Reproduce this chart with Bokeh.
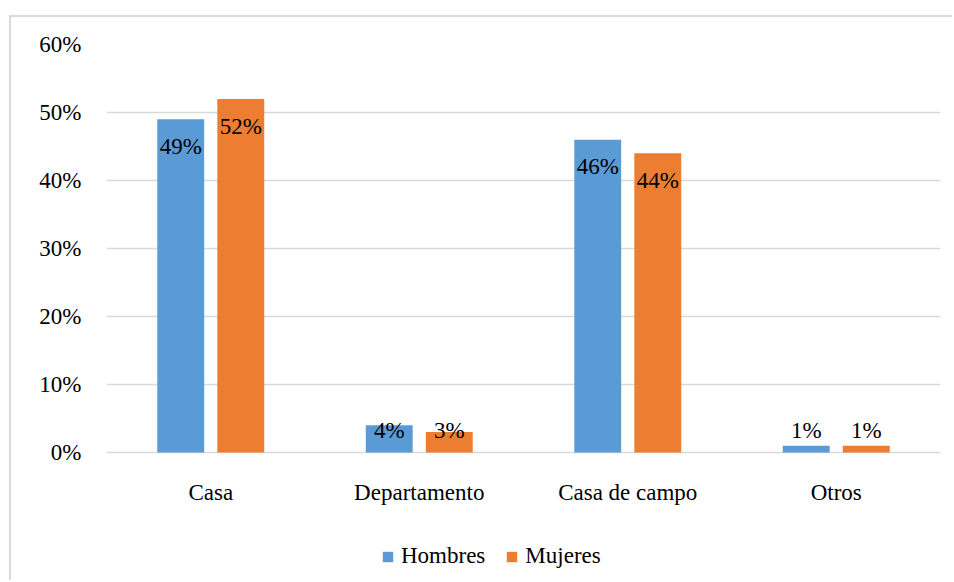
from bokeh.plotting import figure
from bokeh.models import ColumnDataSource, FactorRange, NumeralTickFormatter, Legend, LegendItem
from bokeh.transform import dodge
from bokeh.core.properties import value
from bokeh.embed import file_html
from bokeh.resources import INLINE
import numpy as np

categories = ["Casa", "Departamento", "Casa de campo", "Otros"]
hombres = [0.49, 0.04, 0.46, 0.01]
mujeres = [0.52, 0.03, 0.44, 0.01]
series_names = ["Hombres", "Mujeres"]
y_ticks = [0, 0.1, 0.2, 0.3, 0.4, 0.5, 0.6]

BLUE = "#5B9BD5"
ORANGE = "#ED7D31"
GRID = "#D9D9D9"
FONT = "Liberation Serif"

def label_y(vals):
    v = np.array(vals)
    return np.maximum(v - 0.04, 0.032)

src = ColumnDataSource(dict(
    cat=categories,
    h=hombres,
    m=mujeres,
    h_lab=[f"{round(v*100)}%" for v in hombres],
    m_lab=[f"{round(v*100)}%" for v in mujeres],
    h_y=label_y(hombres),
    m_y=label_y(mujeres),
))

# frame extends below zero so the category labels and legend sit inside it
p = figure(
    x_range=FactorRange(*categories, range_padding=0),
    y_range=(-0.1853, 0.6),
    width=943, height=565,
    output_backend="svg", toolbar_location=None,
    min_border_left=95, min_border_right=14,
    min_border_top=27, min_border_bottom=4,
    styles={"margin-left": "9px", "margin-top": "15px",
            "border-left": "2px solid #D9D9D9", "border-top": "2px solid #D9D9D9"},
)
p.outline_line_color = None
p.background_fill_color = "white"
p.border_fill_color = "white"

off = 0.144
bw = 0.225
r1 = p.vbar(x=dodge("cat", -off, range=p.x_range), top="h", width=bw, source=src,
            fill_color=BLUE, line_color=None)
r2 = p.vbar(x=dodge("cat", off, range=p.x_range), top="m", width=bw, source=src,
            fill_color=ORANGE, line_color=None)

p.text(x=dodge("cat", -off, range=p.x_range), y="h_y", text="h_lab", source=src,
       text_align="center", text_baseline="middle", text_font=value(FONT),
       text_font_size="23px", text_color="black")
p.text(x=dodge("cat", off, range=p.x_range), y="m_y", text="m_lab", source=src,
       text_align="center", text_baseline="middle", text_font=value(FONT),
       text_font_size="23px", text_color="black")

# category labels (x axis)
p.text(x="cat", y=-0.0588, text="cat", source=src,
       text_align="center", text_baseline="middle", text_font=value(FONT),
       text_font_size="23px", text_color="black")
p.xaxis.visible = False

# y axis
p.yaxis.ticker = y_ticks
p.yaxis.formatter = NumeralTickFormatter(format="0%")
p.yaxis.axis_line_color = None
p.yaxis.major_tick_line_color = None
p.yaxis.major_tick_out = 0
p.yaxis.major_tick_in = 0
p.yaxis.minor_tick_line_color = None
p.yaxis.major_label_text_font = FONT
p.yaxis.major_label_text_font_size = "23px"
p.yaxis.major_label_text_color = "black"
p.yaxis.major_label_standoff = 25

p.xgrid.grid_line_color = None
p.ygrid.ticker = y_ticks
p.ygrid.grid_line_color = GRID
p.ygrid.grid_line_width = 1.5

legend = Legend(
    items=[LegendItem(label=series_names[0], renderers=[r1]),
           LegendItem(label=series_names[1], renderers=[r2])],
    orientation="horizontal",
    location=(275, 9),
    label_text_font=FONT, label_text_font_size="23px", label_text_color="black",
    glyph_width=13, glyph_height=13, spacing=20, label_standoff=7,
    padding=4, margin=0, border_line_color=None, background_fill_alpha=0,
)
p.add_layout(legend, "center")

open("out.html", "w").write(file_html(p, INLINE))
